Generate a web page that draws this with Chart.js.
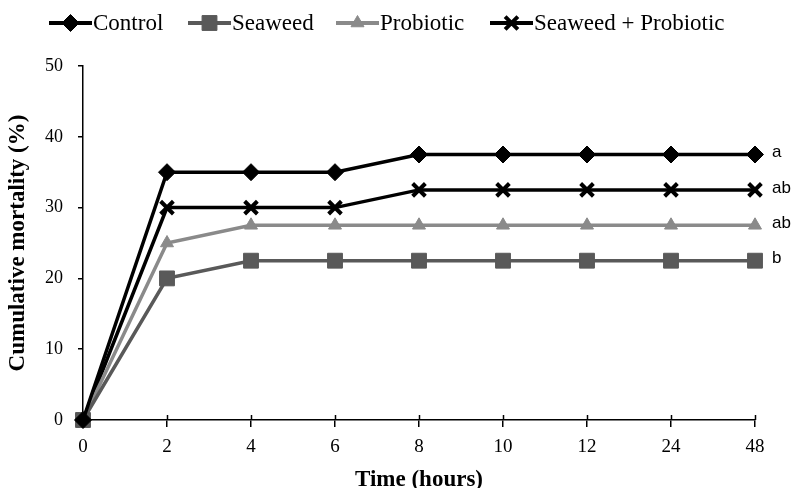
<!DOCTYPE html>
<html>
<head>
<meta charset="utf-8">
<script src="https://cdn.jsdelivr.net/npm/chart.js@4/dist/chart.umd.min.js"></script>
<style>
  html, body { margin: 0; padding: 0; background: #fff; }
  #wrap { width: 793px; height: 488px; position: relative; }
</style>
</head>
<body>
<div id="wrap"><canvas id="mortalityChart"></canvas></div>
<script>
// time points (hours)
var times = ['0', '2', '4', '6', '8', '10', '12', '24', '48'];

// cumulative mortality (%)
var control = [0, 35, 35, 35, 37.5, 37.5, 37.5, 37.5, 37.5];
var seaweed = [0, 20, 22.5, 22.5, 22.5, 22.5, 22.5, 22.5, 22.5];
var probiotic = [0, 25, 27.5, 27.5, 27.5, 27.5, 27.5, 27.5, 27.5];
var seaweedProbiotic = [0, 30, 30, 30, 32.5, 32.5, 32.5, 32.5, 32.5];

var seriesNames = ['Control', 'Seaweed', 'Probiotic', 'Seaweed + Probiotic'];
var groupLetters = ['a', 'b', 'ab', 'ab'];

var yTicks = [0, 10, 20, 30, 40, 50];

var serif = "'Liberation Serif', 'Times New Roman', serif";

function makeSet(label, data, color, style, radius, bw) {
  return {
    label: label,
    data: data,
    borderColor: color,
    backgroundColor: color,
    borderWidth: 3.5,
    pointStyle: style,
    pointRadius: radius,
    pointHoverRadius: radius,
    pointBorderWidth: bw,
    pointBackgroundColor: color,
    pointBorderColor: color,
    tension: 0,
    clip: false
  };
}

// legend with line + marker, drawn on the canvas
var lineLegend = {
  id: 'lineLegend',
  afterDraw: function (chart) {
    var ctx = chart.ctx;
    var starts = [49, 188, 336, 490];
    var y = 23;
    ctx.save();
    chart.data.datasets.forEach(function (ds, i) {
      var x0 = starts[i];
      ctx.strokeStyle = ds.borderColor;
      ctx.lineWidth = 4;
      ctx.beginPath();
      ctx.moveTo(x0, y);
      ctx.lineTo(x0 + 43, y);
      ctx.stroke();
      ctx.fillStyle = ds.borderColor;
      ctx.lineWidth = ds.pointBorderWidth;
      Chart.helpers.drawPoint(ctx, {
        pointStyle: ds.pointStyle,
        radius: ds.pointRadius,
        borderWidth: ds.pointBorderWidth,
        rotation: 0
      }, x0 + 21.5, y);
      ctx.fillStyle = '#000';
      ctx.font = '23px ' + serif;
      ctx.textBaseline = 'middle';
      ctx.textAlign = 'left';
      ctx.fillText(ds.label, x0 + 44, y + 1);
    });
    ctx.restore();
  }
};

// significance letters at the end of each line + tick marks crossing the x axis
var extras = {
  id: 'extras',
  afterDraw: function (chart) {
    var ctx = chart.ctx;
    var xs = chart.scales.x, ys = chart.scales.y;
    ctx.save();
    ctx.fillStyle = '#000';
    ctx.font = "17px 'Liberation Sans', Arial, sans-serif";
    ctx.textBaseline = 'middle';
    ctx.textAlign = 'left';
    chart.data.datasets.forEach(function (ds, i) {
      var last = ds.data.length - 1;
      var px = xs.getPixelForValue(last);
      var py = ys.getPixelForValue(ds.data[last]);
      ctx.fillText(groupLetters[i], px + 17, py - 2);
    });
    ctx.strokeStyle = '#000';
    ctx.lineWidth = 1.5;
    for (var t = 1; t < times.length; t++) {
      var tx = Math.round(xs.getPixelForTick(t)) + 0.5;
      ctx.beginPath();
      ctx.moveTo(tx, ys.bottom);
      ctx.lineTo(tx, ys.bottom - 5);
      ctx.stroke();
    }
    ctx.restore();
  }
};

var ctx = document.getElementById('mortalityChart').getContext('2d');
var mortalityChart = new Chart(ctx, {
  type: 'line',
  data: {
    labels: times,
    datasets: [
      makeSet(seriesNames[0], control, '#000000', 'rectRot', 8.5, 1),
      makeSet(seriesNames[1], seaweed, '#595959', 'rect', 10.5, 1),
      makeSet(seriesNames[2], probiotic, '#8a8a8a', 'triangle', 7.5, 1),
      makeSet(seriesNames[3], seaweedProbiotic, '#000000', 'crossRot', 9, 4)
    ]
  },
  options: {
    responsive: true,
    maintainAspectRatio: false,
    animation: false,
    events: [],
    layout: {
      padding: { top: 66, right: 38, left: 0, bottom: 0 }
    },
    plugins: {
      legend: { display: false },
      tooltip: { enabled: false }
    },
    scales: {
      x: {
        offset: false,
        grid: {
          display: true,
          drawOnChartArea: false,
          drawTicks: true,
          tickLength: 7,
          color: '#000',
          lineWidth: 1.5
        },
        border: { display: true, color: '#000', width: 1.5 },
        ticks: {
          color: '#000',
          padding: 9,
          maxRotation: 0,
          autoSkip: false,
          font: { family: serif, size: 19 }
        },
        title: {
          display: true,
          text: 'Time (hours)',
          color: '#000',
          padding: { top: 0, bottom: -6 },
          font: { family: serif, size: 23, weight: 'bold' }
        },
        afterFit: function (scale) { scale.height = 68; }
      },
      y: {
        min: 0,
        max: 50,
        afterBuildTicks: function (scale) {
          scale.ticks = yTicks.map(function (v) { return { value: v }; });
        },
        grid: {
          display: true,
          drawOnChartArea: false,
          drawTicks: true,
          tickLength: 5,
          color: '#000',
          lineWidth: 1.5
        },
        border: { display: true, color: '#000', width: 1.5 },
        ticks: {
          color: '#000',
          padding: 15,
          font: { family: serif, size: 18 }
        },
        title: {
          display: true,
          text: 'Cumulative mortality (%)',
          color: '#000',
          padding: { top: 4, bottom: 0 },
          font: { family: serif, size: 23, weight: 'bold' }
        },
        afterFit: function (scale) { scale.width = 83; }
      }
    }
  },
  plugins: [lineLegend, extras]
});
</script>
</body>
</html>
